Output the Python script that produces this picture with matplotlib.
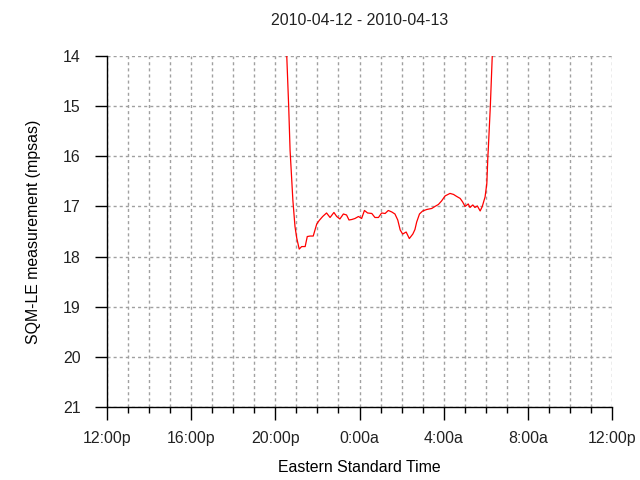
import matplotlib
matplotlib.use("Agg")
import matplotlib.pyplot as plt
import matplotlib.dates as mdates
import pandas as pd

# SQM-LE readings, night of 2010-04-12 -> 2010-04-13
times = ["2010-04-12 20:32", "2010-04-12 20:38", "2010-04-12 20:42", "2010-04-12 20:50",
         "2010-04-12 20:56", "2010-04-12 21:01", "2010-04-12 21:08", "2010-04-12 21:15",
         "2010-04-12 21:25", "2010-04-12 21:31", "2010-04-12 21:39", "2010-04-12 21:48",
         "2010-04-12 21:58", "2010-04-12 22:05", "2010-04-12 22:15", "2010-04-12 22:26",
         "2010-04-12 22:36", "2010-04-12 22:47", "2010-04-12 22:55", "2010-04-12 23:04",
         "2010-04-12 23:14", "2010-04-12 23:23", "2010-04-12 23:30", "2010-04-12 23:38",
         "2010-04-12 23:47", "2010-04-12 23:57", "2010-04-13 00:06", "2010-04-13 00:14",
         "2010-04-13 00:23", "2010-04-13 00:35", "2010-04-13 00:44", "2010-04-13 00:54",
         "2010-04-13 01:03", "2010-04-13 01:13", "2010-04-13 01:22", "2010-04-13 01:32",
         "2010-04-13 01:41", "2010-04-13 01:49", "2010-04-13 01:56", "2010-04-13 02:03",
         "2010-04-13 02:13", "2010-04-13 02:22", "2010-04-13 02:32", "2010-04-13 02:38",
         "2010-04-13 02:43", "2010-04-13 02:51", "2010-04-13 03:00", "2010-04-13 03:12",
         "2010-04-13 03:26", "2010-04-13 03:35", "2010-04-13 03:45", "2010-04-13 03:54",
         "2010-04-13 04:04", "2010-04-13 04:18", "2010-04-13 04:28", "2010-04-13 04:37",
         "2010-04-13 04:47", "2010-04-13 04:54", "2010-04-13 05:01", "2010-04-13 05:10",
         "2010-04-13 05:15", "2010-04-13 05:23", "2010-04-13 05:29", "2010-04-13 05:36",
         "2010-04-13 05:44", "2010-04-13 05:50", "2010-04-13 05:58", "2010-04-13 06:03",
         "2010-04-13 06:06", "2010-04-13 06:07", "2010-04-13 06:13", "2010-04-13 06:19"]
mpsas = [13.9, 15.0, 15.88, 16.88,
         17.4, 17.63, 17.85, 17.8,
         17.8, 17.6, 17.59, 17.59,
         17.35, 17.28, 17.2, 17.13,
         17.22, 17.12, 17.2, 17.25,
         17.15, 17.17, 17.27, 17.26,
         17.24, 17.2, 17.24, 17.08,
         17.13, 17.14, 17.22, 17.22,
         17.13, 17.14, 17.08, 17.11,
         17.15, 17.27, 17.47, 17.55,
         17.51, 17.64, 17.55, 17.46,
         17.31, 17.15, 17.09, 17.06,
         17.04, 17.0, 16.96, 16.89,
         16.79, 16.74, 16.76, 16.8,
         16.84, 16.91, 17.0, 16.95,
         17.02, 16.97, 17.02, 16.99,
         17.09, 17.0, 16.81, 16.54,
         16.0, 15.88, 15.0, 13.9]

tick_times = ["2010-04-12 12:00", "2010-04-12 16:00", "2010-04-12 20:00", "2010-04-13 00:00",
              "2010-04-13 04:00", "2010-04-13 08:00", "2010-04-13 12:00"]
tick_labels = ["12:00p", "16:00p", "20:00p", "0:00a", "4:00a", "8:00a", "12:00p"]

df = pd.DataFrame({"t": pd.to_datetime(times), "v": mpsas})
ticks = pd.to_datetime(tick_times)

plt.rcParams['font.family'] = ['Liberation Sans', 'DejaVu Sans']
plt.rcParams['font.size'] = 11.4
plt.rcParams['text.color'] = '#222222'

fig = plt.figure(figsize=(6.4, 4.8), dpi=100)
ax = fig.add_axes([0.1672, 0.152, 0.7891, 0.7313])

ax.plot(df["t"], df["v"], color='red', lw=0.9, zorder=3)

ax.set_xlim(ticks[0], ticks[-1])
ax.set_ylim(21, 14)
ax.set_yticks(range(14, 22))
ax.set_xticks(ticks)
ax.set_xticklabels(tick_labels)
ax.xaxis.set_minor_locator(mdates.HourLocator())

ax.tick_params(which='major', direction='out', length=9, width=1, color='black',
               labelcolor='#222222')
ax.tick_params(axis='x', which='major', pad=8)
ax.tick_params(axis='y', which='major', pad=10)
ax.tick_params(which='minor', direction='out', length=4.5, width=1, color='black')
grid_style = dict(linestyle=(0, (2.2, 2.2)), color='#a0a0a0', lw=1)
ax.grid(which='both', axis='x', **grid_style)
ax.grid(which='major', axis='y', **grid_style)

for s in ['top', 'right']:
    ax.spines[s].set_visible(False)
for s in ['left', 'bottom']:
    ax.spines[s].set_linewidth(1)

ax.set_title('2010-04-12 - 2010-04-13', fontsize=11.4, y=1.0, pad=22)
ax.set_xlabel('Eastern Standard Time')
ax.set_ylabel('SQM-LE measurement (mpsas)')
ax.xaxis.set_label_coords(0.5, -53 / 351, transform=ax.transAxes)
ax.yaxis.set_label_coords(-66 / 505, 0.5, transform=ax.transAxes)

fig.savefig('out.png', dpi=100)
